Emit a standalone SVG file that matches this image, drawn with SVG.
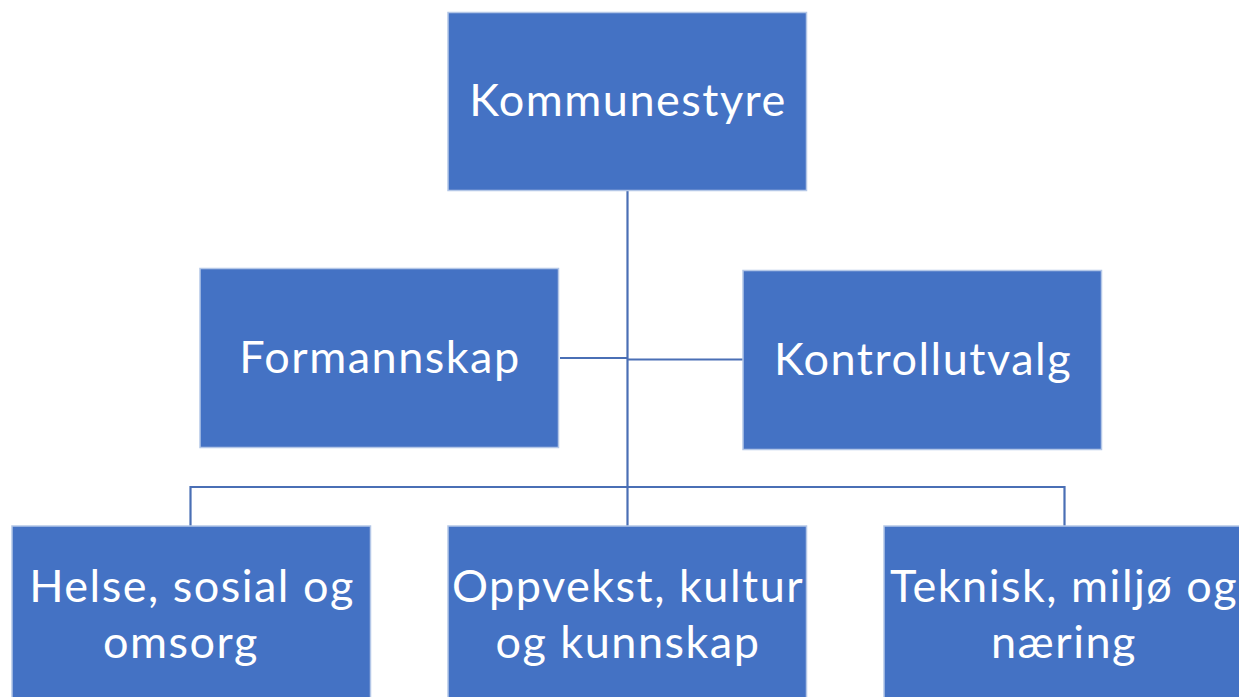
<svg xmlns="http://www.w3.org/2000/svg" width="1239" height="697" viewBox="0 0 1239 697">
<style>
.box{fill:#4472C4;stroke:#B4C7E7;stroke-width:1.5}
.lbl{fill:#fff;font-family:Lato,"Open Sans",sans-serif;font-size:45px;letter-spacing:1.5px;text-anchor:middle}
.con{stroke:#4A6FB5;stroke-width:2.2;fill:none}
</style>
<rect width="1239" height="697" fill="#fff"/>
<g id="connectors">
<path class="con" d="M627.5 191V526"/>
<path class="con" d="M560 358H627.5"/>
<path class="con" d="M627.5 359.5H743"/>
<path class="con" d="M190.5 526V487H1064.5V526"/>
</g>
<g id="kommunestyre"><rect class="box" x="448" y="12.5" width="358.5" height="178"/><text class="lbl" x="628" y="116">Kommunestyre</text></g>
<g id="formannskap"><rect class="box" x="200" y="268.5" width="358.5" height="179"/><text class="lbl" x="380" y="373">Formannskap</text></g>
<g id="kontrollutvalg"><rect class="box" x="743" y="270.5" width="358.5" height="179"/><text class="lbl" x="923" y="375">Kontrollutvalg</text></g>
<g id="helse"><rect class="box" x="12" y="526" width="358.5" height="180"/><text class="lbl" x="192" y="602">Helse, sosial og</text><text class="lbl" x="181" y="658">omsorg</text></g>
<g id="oppvekst"><rect class="box" x="448" y="526" width="358.5" height="180"/><text class="lbl" x="628" y="602">Oppvekst, kultur</text><text class="lbl" x="628" y="658">og kunnskap</text></g>
<g id="teknisk"><rect class="box" x="884" y="526" width="358.5" height="180"/><text class="lbl" x="1064" y="602">Teknisk, miljø og</text><text class="lbl" x="1064" y="658">næring</text></g>
</svg>
